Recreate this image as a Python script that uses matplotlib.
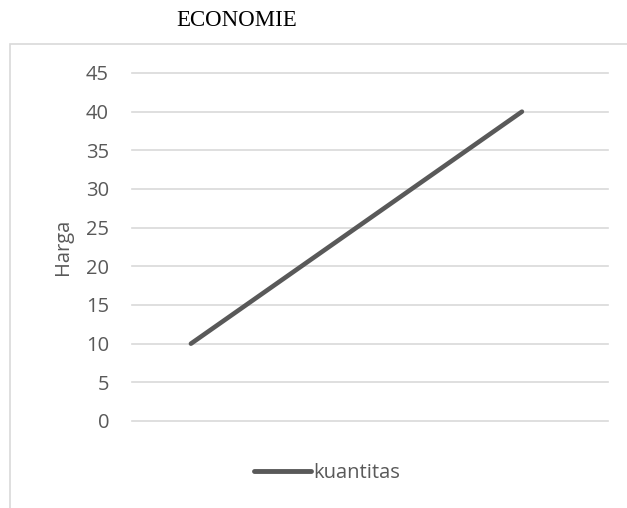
import matplotlib.pyplot as plt
from matplotlib.lines import Line2D
from matplotlib.patches import Rectangle

# data
kategori = ["1", "2"]
kuantitas = [10, 40]
yticks = [0, 5, 10, 15, 20, 25, 30, 35, 40, 45]

abu = "#595959"
fig = plt.figure(figsize=(6.27, 5.08), dpi=100)

# chart frame (partly cut off at right and bottom)
fig.patches.append(Rectangle((10 / 627, -0.1), 1.2, 1 - 44 / 508 + 0.1,
                             transform=fig.transFigure, fill=False,
                             edgecolor="#d9d9d9", linewidth=1.2))

ax = fig.add_axes([132 / 627, 1 - 421 / 508, 476 / 627, 348 / 508])
x = range(len(kategori))
ax.plot(x, kuantitas, color=abu, linewidth=3.3, solid_capstyle="round")
ax.set_xlim(-0.178, 1.26)
ax.set_ylim(0, 45)
ax.set_yticks(yticks)
ax.set_xticks([])
ax.grid(axis="y", color="#d9d9d9", linewidth=1.2)
for gl in ax.get_ygridlines():
    gl.set_clip_on(False)
ax.set_axisbelow(True)
for s in ax.spines.values():
    s.set_visible(False)
ax.tick_params(axis="y", length=0, pad=16.5, labelsize=14.5, labelcolor=abu)
for t in ax.get_yticklabels():
    t.set_fontfamily("Open Sans")
ax.set_ylabel("Harga", fontsize=14.5, color=abu, family="Open Sans", labelpad=9)

fig.text(237 / 627, 1 - 21 / 508, "ECONOMIE", family="Liberation Serif",
         fontsize=16.5, ha="center", va="center", color="black")

h = Line2D([0], [0], color=abu, linewidth=3.5, solid_capstyle="round")
fig.legend([h], ["kuantitas"], loc="center", bbox_to_anchor=(327 / 627, 1 - 473 / 508),
           frameon=False, handlelength=2.8, handletextpad=0.1,
           prop={"family": "Open Sans", "size": 14.5}, labelcolor=abu)

fig.savefig("out.png", dpi=100)
